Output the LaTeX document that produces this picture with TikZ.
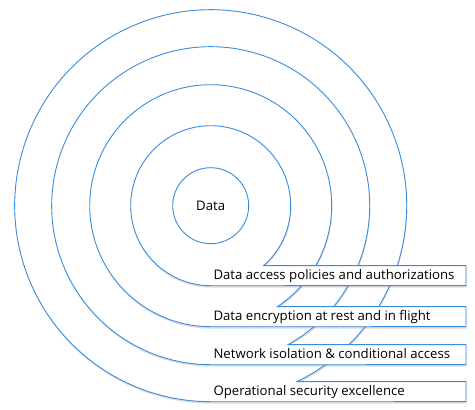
\documentclass[tikz,border=0pt]{standalone}
\usepackage{fontspec}
\setmainfont{Open Sans}
\usetikzlibrary{calc,shadows}
\definecolor{ringblue}{RGB}{58,140,222}
\begin{document}
\begin{tikzpicture}[x=1pt,y=1pt,
  ring/.style={draw=ringblue, line width=0.9pt, fill=white,
    drop shadow={opacity=0.25, shadow xshift=0.6pt, shadow yshift=-2pt}},
  lbl/.style={anchor=base west, inner sep=0pt, font=\fontsize{13.2}{15}\selectfont},
  core/.style={circle, draw=ringblue, line width=0.9pt, fill=white, minimum size=76pt, inner sep=0pt, font=\fontsize{13.2}{15}\selectfont}]
\useasboundingbox (0,0) rectangle (475,410);
\coordinate (c) at (210.7,204.3);
\foreach \r in {196,159,121,80}{
  \pgfmathsetmacro{\h}{20}
  \pgfmathsetmacro{\a}{sqrt(\h*(2*\r-\h))}
  \pgfmathsetmacro{\t}{-asin((\r-\h)/\r)}
  \draw[ring] ($(c)+(\a,-\r+\h)$) arc[start angle=\t, end angle=270, radius=\r]
    -- ($(c)+(255.3,-\r)$) -- ($(c)+(255.3,-\r+\h)$) -- cycle;
}
\node[core] (data) at (c) {Data};
\node[lbl] (l1) at ($(c)+(2.6,-74)$) {Data access policies and authorizations};
\node[lbl] (l2) at ($(c)+(2.6,-114.7)$) {Data encryption at rest and in flight};
\node[lbl] (l3) at ($(c)+(2.6,-153.2)$) {Network isolation \& conditional access};
\node[lbl] (l4) at ($(c)+(2.6,-190.2)$) {Operational security excellence};
\end{tikzpicture}
\end{document}
